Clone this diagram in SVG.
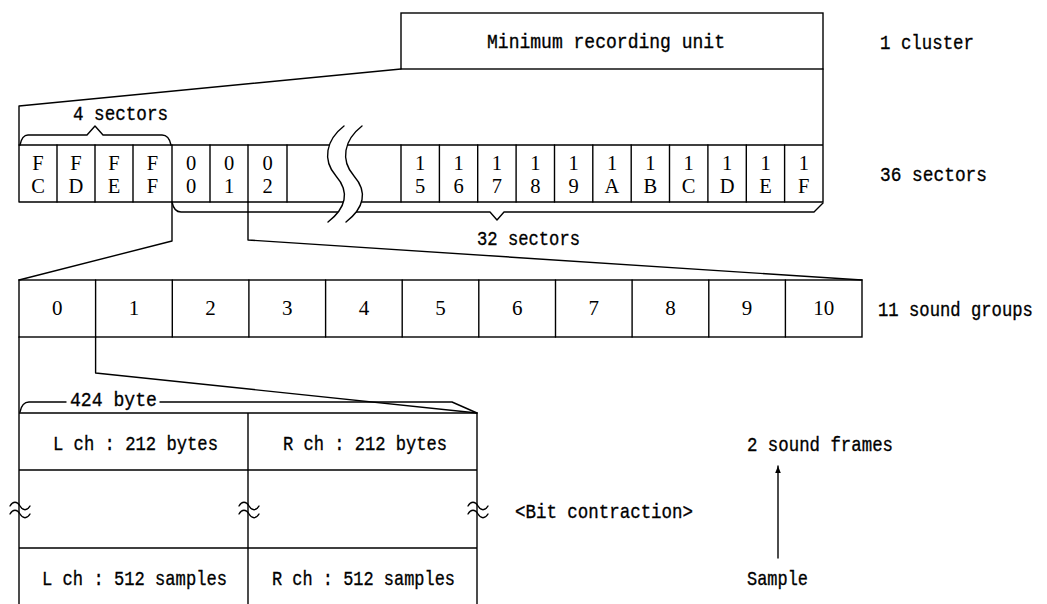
<svg xmlns="http://www.w3.org/2000/svg" width="1047" height="604" viewBox="0 0 1047 604">
<style>
.ln{fill:none;stroke:#000;stroke-width:1.4;stroke-linejoin:round;stroke-linecap:round}
.box{fill:#fff;stroke:#000;stroke-width:1.4}
.t{font-family:"Liberation Mono","DejaVu Sans Mono",monospace;font-size:21px;fill:#000;stroke:#000;stroke-width:0.35}
.s{font-family:"Liberation Serif","DejaVu Serif",serif;font-size:20.5px;fill:#000;text-anchor:middle}
.g{font-family:"Liberation Serif","DejaVu Serif",serif;font-size:21px;fill:#000;text-anchor:middle}
</style>
<defs>
<marker id="ah" viewBox="0 0 10 10" refX="10" refY="5" markerWidth="7" markerHeight="9" markerUnits="userSpaceOnUse" orient="auto">
<path d="M0,1 L10,5 L0,9 Z" fill="#000"/>
</marker>
</defs>
<rect width="1047" height="604" fill="#fff"/>

<g id="cluster">
<rect class="box" x="401" y="13" width="422" height="56"/>
<text class="t" x="487" y="48" textLength="238" lengthAdjust="spacingAndGlyphs">Minimum recording unit</text>
<text class="t" x="880" y="49" textLength="94" lengthAdjust="spacingAndGlyphs">1 cluster</text>
</g>

<g id="sectors">
<path class="ln" d="M19,145 H823 M19,202 H823 M19,145 V202 M823,69 V202"/>
<path class="ln" d="M57,145V202 M95,145V202 M133,145V202 M172,145V202 M210,145V202 M248,145V202 M287,145V202 M401,145V202 M439.4,145V202 M477.7,145V202 M516.1,145V202 M554.5,145V202 M592.8,145V202 M631.2,145V202 M669.5,145V202 M707.9,145V202 M746.3,145V202 M784.6,145V202"/>
<g class="s">
<text x="38" y="170">F</text><text x="38" y="193">C</text>
<text x="76" y="170">F</text><text x="76" y="193">D</text>
<text x="114" y="170">F</text><text x="114" y="193">E</text>
<text x="152.5" y="170">F</text><text x="152.5" y="193">F</text>
<text x="191" y="170">0</text><text x="191" y="193">0</text>
<text x="229" y="170">0</text><text x="229" y="193">1</text>
<text x="267.5" y="170">0</text><text x="267.5" y="193">2</text>
<text x="420.2" y="170">1</text><text x="420.2" y="193">5</text>
<text x="458.5" y="170">1</text><text x="458.5" y="193">6</text>
<text x="496.9" y="170">1</text><text x="496.9" y="193">7</text>
<text x="535.3" y="170">1</text><text x="535.3" y="193">8</text>
<text x="573.6" y="170">1</text><text x="573.6" y="193">9</text>
<text x="612" y="170">1</text><text x="612" y="193">A</text>
<text x="650.4" y="170">1</text><text x="650.4" y="193">B</text>
<text x="688.7" y="170">1</text><text x="688.7" y="193">C</text>
<text x="727.1" y="170">1</text><text x="727.1" y="193">D</text>
<text x="765.5" y="170">1</text><text x="765.5" y="193">E</text>
<text x="803.8" y="170">1</text><text x="803.8" y="193">F</text>
</g>
<text class="t" x="880" y="181" textLength="107" lengthAdjust="spacingAndGlyphs">36 sectors</text>
</g>

<g id="sound-groups">
<rect class="box" x="19" y="280" width="843" height="57"/>
<path class="ln" d="M95.6,280V337 M172.3,280V337 M248.9,280V337 M325.6,280V337 M402.2,280V337 M478.8,280V337 M555.5,280V337 M632.1,280V337 M708.8,280V337 M785.4,280V337"/>
<g class="g">
<text x="57.3" y="315">0</text><text x="134" y="315">1</text><text x="210.6" y="315">2</text><text x="287.2" y="315">3</text><text x="363.9" y="315">4</text><text x="440.5" y="315">5</text><text x="517.2" y="315">6</text><text x="593.8" y="315">7</text><text x="670.5" y="315">8</text><text x="747.1" y="315">9</text><text x="823.7" y="315">10</text>
</g>
<text class="t" transform="translate(878,316) scale(0.82,1)" x="0" y="0">11 sound groups</text>
</g>

<g id="sound-frames">
<path class="ln" d="M19,413 H477 M19,470 H477 M19,548 H477 M19,337 V604 M248,413 V604 M477,413 V604"/>
<path class="ln" d="M10,506 c3,-5 7,-5 10,0 s7,5 10,0 M10,514 c3,-5 7,-5 10,0 s7,5 10,0"/>
<path class="ln" d="M239,506 c3,-5 7,-5 10,0 s7,5 10,0 M239,514 c3,-5 7,-5 10,0 s7,5 10,0"/>
<path class="ln" d="M468,506 c3,-5 7,-5 10,0 s7,5 10,0 M468,514 c3,-5 7,-5 10,0 s7,5 10,0"/>
<text class="t" x="53" y="450" textLength="165" lengthAdjust="spacingAndGlyphs">L ch : 212 bytes</text>
<text class="t" x="283" y="450" textLength="164" lengthAdjust="spacingAndGlyphs">R ch : 212 bytes</text>
<text class="t" x="42" y="585" textLength="185" lengthAdjust="spacingAndGlyphs">L ch : 512 samples</text>
<text class="t" x="272" y="585" textLength="183" lengthAdjust="spacingAndGlyphs">R ch : 512 samples</text>
<text class="t" x="515" y="518" textLength="178" lengthAdjust="spacingAndGlyphs">&lt;Bit contraction&gt;</text>
</g>

<g id="sample-note">
<text class="t" x="747" y="451" textLength="146" lengthAdjust="spacingAndGlyphs">2 sound frames</text>
<text class="t" x="747" y="585" textLength="61" lengthAdjust="spacingAndGlyphs">Sample</text>
</g>

<g id="connectors">
<path class="ln" d="M401,69 L19,106 V145"/>
<path class="ln" d="M20,145 Q22,135 28,135 H87 L95,126 L103,135 H162 Q169,135 171,145"/>
<text class="t" x="73" y="120" textLength="95" lengthAdjust="spacingAndGlyphs">4 sectors</text>
<path class="ln" d="M172,202 Q174,212 181,212 H490 L497,220 L504,212 H814 L823,203"/>
<text class="t" x="477" y="245" textLength="103" lengthAdjust="spacingAndGlyphs">32 sectors</text>
<path class="ln" d="M172,202 V241 L19,280"/>
<path class="ln" d="M248,202 V240 L862,280"/>
<path class="ln" d="M95.6,337 V373 L477,413"/>
<path class="ln" d="M20,412 Q22,402 29,402 H66 M160,402 H452 L477,413"/>
<text class="t" x="70" y="406" textLength="87" lengthAdjust="spacingAndGlyphs">424 byte</text>
<line class="ln" x1="778" y1="558" x2="778" y2="466" marker-end="url(#ah)"/>
</g>

<g id="break">
<path fill="#fff" stroke="none" d="M344,126 C326,140 322,160 336,176 C350,192 346,208 328,222 L346,222 C364,208 368,192 354,176 C340,160 344,140 362,126 Z"/>
<path class="ln" d="M344,126 C326,140 322,160 336,176 C350,192 346,208 328,222"/>
<path class="ln" d="M362,126 C344,140 340,160 354,176 C368,192 364,208 346,222"/>
</g>
</svg>
